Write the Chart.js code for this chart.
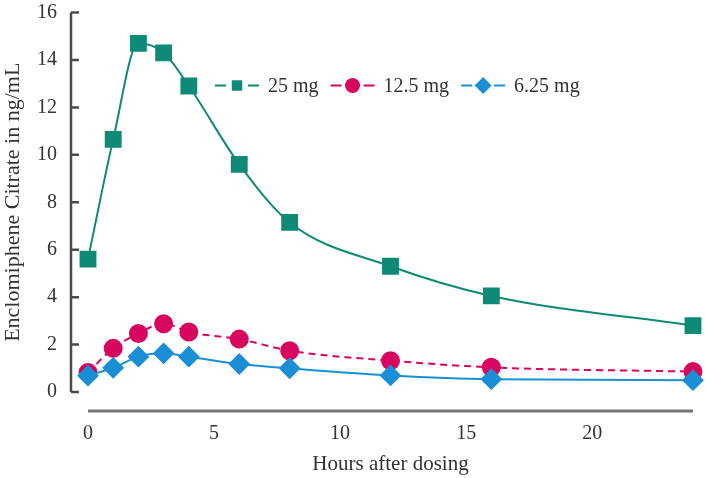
<!DOCTYPE html>
<html>
<head>
<meta charset="utf-8">
<script src="https://cdn.jsdelivr.net/npm/chart.js@4/dist/chart.umd.min.js"></script>
<style>
  html, body { margin: 0; padding: 0; background: #fff; }
  #wrap { width: 706px; height: 478px; }
</style>
</head>
<body>
<div id="wrap"><canvas id="pkChart" width="706" height="478"></canvas></div>
<script>
// values
const hours = [0, 1, 2, 3, 4, 6, 8, 12, 16, 24];
const dose25 = [5.6, 10.65, 14.7, 14.3, 12.9, 9.6, 7.15, 5.3, 4.05, 2.8];
const dose125 = [0.82, 1.84, 2.47, 2.88, 2.53, 2.23, 1.74, 1.32, 1.04, 0.86];
const dose625 = [0.69, 1.02, 1.49, 1.63, 1.49, 1.18, 1.0, 0.7, 0.54, 0.5];
const seriesNames = ["25 mg", "12.5 mg", "6.25 mg"];
const xTicks = [0, 5, 10, 15, 20];
const yTicks = [0, 2, 4, 6, 8, 10, 12, 14, 16];

const serif = "'Liberation Serif', 'Times New Roman', serif";
const textColor = "#333";

const toPoints = (vals) => hours.map((h, i) => ({x: h, y: vals[i]}));

function drawMarker(ctx, style, cx, cy, r, color) {
  ctx.fillStyle = color;
  ctx.beginPath();
  if (style === "rect") {
    const h = r * Math.SQRT1_2;
    ctx.rect(cx - h, cy - h, 2 * h, 2 * h);
  } else if (style === "rectRot") {
    ctx.moveTo(cx, cy - r);
    ctx.lineTo(cx + r, cy);
    ctx.lineTo(cx, cy + r);
    ctx.lineTo(cx - r, cy);
    ctx.closePath();
  } else {
    ctx.arc(cx, cy, r, 0, Math.PI * 2);
  }
  ctx.fill();
}

// axes sit a little away from the plot, ticks point inwards
const detachedAxes = {
  id: "detachedAxes",
  afterDraw(chart) {
    const {ctx, chartArea} = chart;
    const x = chart.scales.x;
    const y = chart.scales.y;
    const yLineX = chartArea.left - 17;
    const xLineY = chartArea.bottom + 19;
    ctx.save();
    ctx.strokeStyle = "#4a4a4a";
    ctx.lineWidth = 2.5;
    ctx.beginPath();
    ctx.moveTo(yLineX, y.getPixelForValue(yTicks[yTicks.length - 1]));
    ctx.lineTo(yLineX, y.getPixelForValue(yTicks[0]));
    yTicks.forEach((v) => {
      const py = y.getPixelForValue(v);
      ctx.moveTo(yLineX, py);
      ctx.lineTo(yLineX + 8, py);
    });
    ctx.stroke();
    ctx.strokeStyle = "#777";
    ctx.lineWidth = 3;
    ctx.beginPath();
    ctx.moveTo(x.getPixelForValue(x.min), xLineY);
    ctx.lineTo(x.getPixelForValue(x.max), xLineY);
    ctx.stroke();
    ctx.restore();
  },
};

const legendRow = {
  id: "legendRow",
  afterDraw(chart) {
    const {ctx, chartArea} = chart;
    let x0 = chartArea.left + 127;
    const cy = chartArea.top + 73;
    ctx.save();
    ctx.font = "20px " + serif;
    ctx.textBaseline = "middle";
    chart.data.datasets.forEach((ds) => {
      ctx.strokeStyle = ds.borderColor;
      ctx.lineWidth = 2;
      ctx.beginPath();
      ctx.moveTo(x0, cy);
      ctx.lineTo(x0 + 11, cy);
      ctx.moveTo(x0 + 33, cy);
      ctx.lineTo(x0 + 44, cy);
      ctx.stroke();
      const r = ds.pointStyle === "rect" ? ds.pointRadius * 0.8 : ds.pointRadius;
      drawMarker(ctx, ds.pointStyle, x0 + 22, cy, r - 1, ds.pointBackgroundColor);
      ctx.fillStyle = textColor;
      ctx.fillText(ds.label, x0 + 53, cy + 1);
      x0 += 53 + ctx.measureText(ds.label).width + 12;
    });
    ctx.restore();
  },
};

const ctx = document.getElementById("pkChart").getContext("2d");
const pkChart = new Chart(ctx, {
  type: "line",
  data: {
    datasets: [{
      label: seriesNames[0],
      data: toPoints(dose25),
      borderColor: "#0e8a76",
      pointBackgroundColor: "#0e8a76",
      pointStyle: "rect",
      pointRadius: 10.5,
      order: 2,
    }, {
      label: seriesNames[1],
      data: toPoints(dose125),
      borderColor: "#d8065f",
      pointBackgroundColor: "#d8065f",
      borderDash: [7, 5],
      pointStyle: "circle",
      pointRadius: 8.5,
      order: 1,
    }, {
      label: seriesNames[2],
      data: toPoints(dose625),
      borderColor: "#1a8fd6",
      pointBackgroundColor: "#1a8fd6",
      pointStyle: "rectRot",
      pointRadius: 9.5,
      order: 0,
    }],
  },
  options: {
    responsive: false,
    devicePixelRatio: 1,
    animation: false,
    events: [],
    layout: {padding: {top: 12, right: 13, left: 0, bottom: 0}},
    datasets: {line: {clip: false}},
    elements: {
      line: {borderWidth: 2, cubicInterpolationMode: "monotone"},
      point: {borderColor: "#fff", borderWidth: 2},
    },
    plugins: {
      legend: {display: false},
      tooltip: {enabled: false},
    },
    scales: {
      x: {
        type: "linear",
        min: 0,
        max: 24,
        afterBuildTicks: (s) => {
          s.ticks = xTicks.map((v) => ({value: v}));
        },
        afterFit: (s) => {
          s.height = 86;
          s.paddingLeft = 0;
          s.paddingRight = 0;
        },
        grid: {display: false, drawTicks: false},
        border: {display: false},
        ticks: {padding: 30, font: {family: serif, size: 20}, color: textColor},
        title: {
          display: true,
          text: "Hours after dosing",
          font: {family: serif, size: 21},
          color: textColor,
          padding: {top: 0, bottom: 1},
        },
      },
      y: {
        min: 0,
        max: 16,
        afterBuildTicks: (s) => {
          s.ticks = yTicks.map((v) => ({value: v}));
        },
        afterFit: (s) => {
          s.width = 88;
          s.paddingTop = 0;
          s.paddingBottom = 0;
        },
        grid: {display: false, drawTicks: false},
        border: {display: false},
        ticks: {padding: 31, font: {family: serif, size: 20}, color: textColor},
        title: {
          display: true,
          text: "Enclomiphene Citrate in ng/mL",
          font: {family: serif, size: 22},
          color: textColor,
          padding: {top: 0, bottom: 0},
        },
      },
    },
  },
  plugins: [detachedAxes, legendRow],
});
</script>
</body>
</html>
